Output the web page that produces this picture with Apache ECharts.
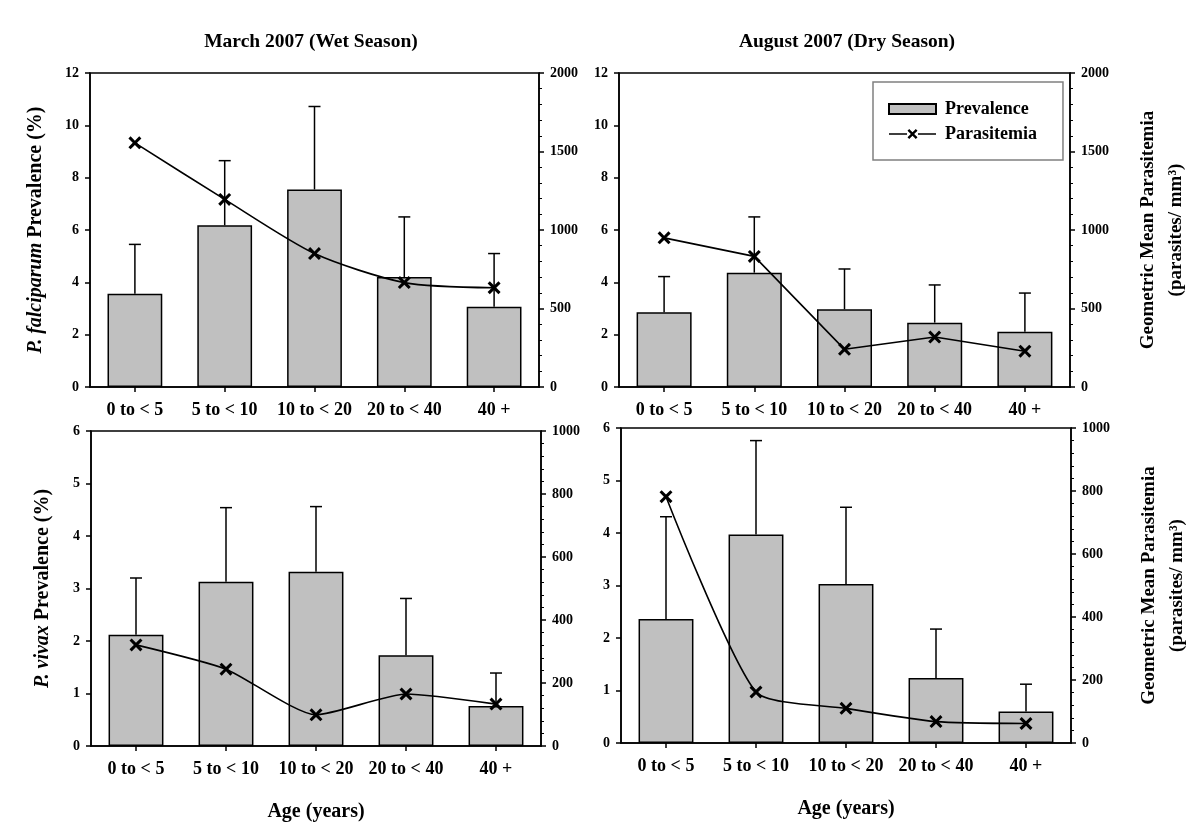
<!DOCTYPE html>
<html>
<head>
<meta charset="utf-8">
<script src="https://cdn.jsdelivr.net/npm/echarts@6/dist/echarts.min.js"></script>
<style>
  html, body { margin: 0; padding: 0; background: #fff; }
  #chart { width: 1200px; height: 835px; }
</style>
</head>
<body>
<div id="chart"></div>
<script>
// ---------------- DATA ----------------
const categories = ['0 to < 5', '5 to < 10', '10 to < 20', '20 to < 40', '40 +'];

// March 2007, P. falciparum
const marPfPrev = [3.56, 6.18, 7.55, 4.20, 3.07];
const marPfUpper = [5.45, 8.65, 10.72, 6.50, 5.10];
const marPfPara = [1555, 1195, 850, 665, 632];

// August 2007, P. falciparum
const augPfPrev = [2.86, 4.37, 2.97, 2.46, 2.11];
const augPfUpper = [4.22, 6.50, 4.51, 3.90, 3.59];
const augPfPara = [950, 832, 240, 318, 228];

// March 2007, P. vivax
const marPvPrev = [2.12, 3.13, 3.32, 1.73, 0.76];
const marPvUpper = [3.20, 4.54, 4.56, 2.81, 1.39];
const marPvPara = [321, 244, 99, 165, 133];

// August 2007, P. vivax
const augPvPrev = [2.36, 3.97, 3.03, 1.24, 0.60];
const augPvUpper = [4.31, 5.76, 4.49, 2.17, 1.12];
const augPvPara = [782, 162, 110, 68, 62];

const prevTicksTop = { min: 0, max: 12, interval: 2 };
const paraTicksTop = { min: 0, max: 2000, interval: 500 };
const prevTicksBottom = { min: 0, max: 6, interval: 1 };
const paraTicksBottom = { min: 0, max: 1000, interval: 200 };

// ---------------- STYLE ----------------
const FONT = '"Liberation Serif", "Times New Roman", serif';
const black = '#000';
const axisLineStyle = { color: black, width: 1.5 };

function xAxisCfg(gridIndex, withName) {
  const a = {
    type: 'category', gridIndex, data: categories,
    axisLine: { show: true, lineStyle: axisLineStyle },
    axisTick: { show: true, alignWithLabel: true, length: 5, lineStyle: axisLineStyle },
    axisLabel: { interval: 0, margin: 14, color: black, fontFamily: FONT, fontWeight: 'bold', fontSize: 18, hideOverlap: false },
    splitLine: { show: false }
  };
  if (withName) {
    a.name = 'Age (years)';
    a.nameLocation = 'middle';
    a.nameGap = 56;
    a.nameTextStyle = { color: black, fontFamily: FONT, fontWeight: 'bold', fontSize: 20 };
  }
  return a;
}

function leftAxisCfg(gridIndex, ticks, name, gap) {
  return {
    type: 'value', gridIndex, position: 'left',
    min: ticks.min, max: ticks.max, interval: ticks.interval,
    axisLine: { show: true, lineStyle: axisLineStyle },
    axisTick: { show: true, length: 5, lineStyle: axisLineStyle },
    axisLabel: { margin: 11, color: black, fontFamily: FONT, fontWeight: 'bold', fontSize: 14, formatter: v => String(v) },
    splitLine: { show: false },
    name: name, nameLocation: 'middle', nameGap: gap, nameRotate: 90,
    nameTextStyle: {
      color: black, fontFamily: FONT, fontWeight: 'bold', fontSize: 20,
      rich: { i: { fontStyle: 'italic', fontWeight: 'bold', fontFamily: FONT, fontSize: 20, color: black } }
    }
  };
}

function rightAxisCfg(gridIndex, ticks, withName) {
  const a = {
    type: 'value', gridIndex, position: 'right',
    min: ticks.min, max: ticks.max, interval: ticks.interval,
    axisLine: { show: true, lineStyle: axisLineStyle },
    axisTick: { show: true, length: 5, lineStyle: axisLineStyle },
    minorTick: { show: true, splitNumber: 5, length: 3, lineStyle: { color: black, width: 1 } },
    axisLabel: { margin: 11, color: black, fontFamily: FONT, fontWeight: 'bold', fontSize: 14, formatter: v => String(v) },
    splitLine: { show: false }, minorSplitLine: { show: false }
  };
  if (withName) {
    a.name = 'Geometric Mean Parasitemia\n(parasites/ mm³)';
    a.nameLocation = 'middle';
    a.nameGap = 64;
    a.nameRotate = 90;
    a.nameTextStyle = { color: black, fontFamily: FONT, fontWeight: 'bold', fontSize: 19, lineHeight: 28, align: 'center' };
  }
  return a;
}

const xSymbol = 'path://M0,2 L2,0 L6,4 L10,0 L12,2 L8,6 L12,10 L10,12 L6,8 L2,12 L0,10 L4,6 Z';
const lineXIcon = 'path://M0,4.3 L18,4.3 L18,5.7 L0,5.7 Z M29,4.3 L47,4.3 L47,5.7 L29,5.7 Z M18.5,1.7 L20.2,0 L23.5,3.3 L26.8,0 L28.5,1.7 L25.2,5 L28.5,8.3 L26.8,10 L23.5,6.7 L20.2,10 L18.5,8.3 L21.8,5 Z';

function renderErr(params, api) {
  const x = api.value(0);
  const p0 = api.coord([x, api.value(1)]);
  const p1 = api.coord([x, api.value(2)]);
  const half = 6;
  const st = { stroke: black, lineWidth: 1.5 };
  return {
    type: 'group',
    children: [
      { type: 'line', shape: { x1: p0[0], y1: p0[1], x2: p1[0], y2: p1[1] }, style: st },
      { type: 'line', shape: { x1: p1[0] - half, y1: p1[1], x2: p1[0] + half, y2: p1[1] }, style: st }
    ]
  };
}

function panelSeries(idx, prev, upper, para, smooth) {
  return [
    {
      name: 'Prevalence', type: 'bar', xAxisIndex: idx, yAxisIndex: idx * 2,
      data: prev, barWidth: '61%',
      itemStyle: { color: '#c0c0c0', borderColor: black, borderWidth: 1.5 },
      emphasis: { disabled: true }, z: 2
    },
    {
      name: 'err' + idx, type: 'custom', xAxisIndex: idx, yAxisIndex: idx * 2,
      data: categories.map((c, i) => [i, prev[i], upper[i]]),
      encode: { x: 0, y: [1, 2] },
      renderItem: renderErr, z: 3, silent: true
    },
    {
      name: 'Parasitemia', type: 'line', xAxisIndex: idx, yAxisIndex: idx * 2 + 1,
      data: para, smooth: smooth,
      symbol: xSymbol, symbolSize: 13,
      lineStyle: { color: black, width: 1.6 },
      itemStyle: { color: black },
      emphasis: { disabled: true }, z: 4
    }
  ];
}

const titleStyle = { color: black, fontFamily: FONT, fontWeight: 'bold', fontSize: 19.5 };

const option = {
  animation: false,
  backgroundColor: '#fff',
  title: [
    { text: 'March 2007 (Wet Season)', left: 311, top: 32, textAlign: 'center', textStyle: titleStyle, padding: 0 },
    { text: 'August 2007 (Dry Season)', left: 847, top: 32, textAlign: 'center', textStyle: titleStyle, padding: 0 }
  ],
  legend: {
    left: 873, top: 82, orient: 'vertical',
    padding: [18, 26, 17, 15],
    itemWidth: 47, itemHeight: 10, itemGap: 7,
    borderColor: '#808080', borderWidth: 1.5,
    textStyle: { color: black, fontFamily: FONT, fontWeight: 'bold', fontSize: 18, padding: [0, 0, 0, 4] },
    selectedMode: false,
    data: [
      { name: 'Prevalence', icon: 'rect' },
      { name: 'Parasitemia', icon: lineXIcon, itemStyle: { color: black, borderWidth: 0 } }
    ]
  },
  grid: [
    { left: 90, top: 73, width: 449, height: 314, show: true, borderColor: black, borderWidth: 1.5, backgroundColor: 'transparent', outerBoundsMode: 'none' },
    { left: 619, top: 73, width: 451, height: 314, show: true, borderColor: black, borderWidth: 1.5, backgroundColor: 'transparent', outerBoundsMode: 'none' },
    { left: 91, top: 431, width: 450, height: 315, show: true, borderColor: black, borderWidth: 1.5, backgroundColor: 'transparent', outerBoundsMode: 'none' },
    { left: 621, top: 428, width: 450, height: 315, show: true, borderColor: black, borderWidth: 1.5, backgroundColor: 'transparent', outerBoundsMode: 'none' }
  ],
  xAxis: [xAxisCfg(0, false), xAxisCfg(1, false), xAxisCfg(2, true), xAxisCfg(3, true)],
  yAxis: [
    leftAxisCfg(0, prevTicksTop, '{i|P. falciparum} Prevalence (%)', 44),
    rightAxisCfg(0, paraTicksTop, false),
    leftAxisCfg(1, prevTicksTop, '', 40),
    rightAxisCfg(1, paraTicksTop, true),
    leftAxisCfg(2, prevTicksBottom, '{i|P. vivax} Prevalence (%)', 38),
    rightAxisCfg(2, paraTicksBottom, false),
    leftAxisCfg(3, prevTicksBottom, '', 40),
    rightAxisCfg(3, paraTicksBottom, true)
  ],
  series: [].concat(
    panelSeries(0, marPfPrev, marPfUpper, marPfPara, 0.25),
    panelSeries(1, augPfPrev, augPfUpper, augPfPara, false),
    panelSeries(2, marPvPrev, marPvUpper, marPvPara, 0.2),
    panelSeries(3, augPvPrev, augPvUpper, augPvPara, 0.2)
  )
};

const chart = echarts.init(document.getElementById('chart'), null, { renderer: 'canvas' });
chart.setOption(option);
</script>
</body>
</html>
